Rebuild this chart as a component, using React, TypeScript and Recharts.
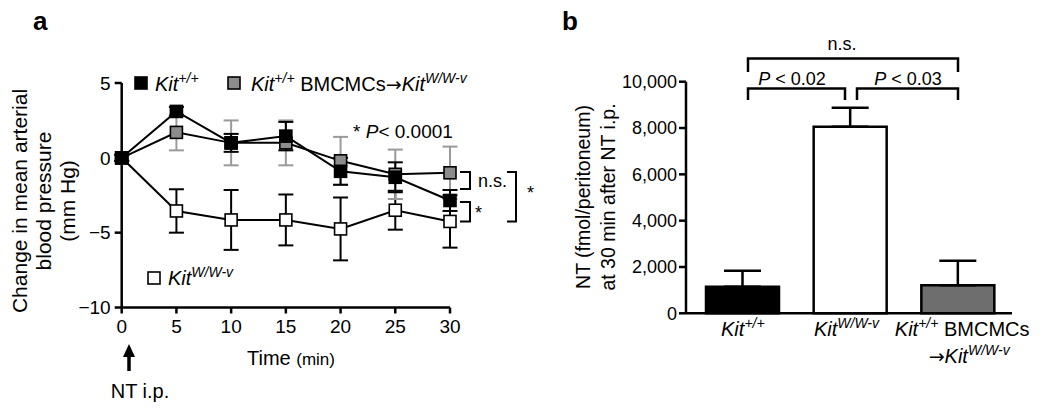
import { LineChart, Line, BarChart, Bar, XAxis, YAxis, ErrorBar, Cell } from 'recharts';

const FONT = 'Arial, "Liberation Sans", Helvetica, sans-serif';
const ARROW_FONT = '"DejaVu Sans", sans-serif';

// a: change in mean arterial pressure after NT i.p.
const times = [0, 5, 10, 15, 20, 25, 30];
const kitWT = [0, 3.1, 1.0, 1.45, -0.9, -1.3, -2.85];
const kitWTErr = [0.2, 0.3, 0.6, 0.95, 0.9, 1.0, 0.7];
const engrafted = [0, 1.7, 1.0, 1.0, -0.2, -1.1, -1.0];
const engraftedErr = [0.2, 1.2, 1.5, 1.5, 1.6, 1.65, 1.75];
const kitWWv = [0, -3.55, -4.15, -4.15, -4.75, -3.5, -4.25];
const kitWWvErr = [0.2, 1.45, 2.0, 1.7, 2.1, 1.3, 1.75];
const timeTicks = [0, 5, 10, 15, 20, 25, 30];
const bpTicks = [-10, -5, 0, 5];

// b: NT recovered from the peritoneum at 30 min
const groups = ['Kit+/+', 'KitW/W-v', 'Kit+/+ BMCMCs→KitW/W-v'];
const ntMean = [1150, 8060, 1210];
const ntSem = [690, 820, 1060];
const ntTicks = [0, 2000, 4000, 6000, 8000, 10000];
const barFills = ['#000000', '#ffffff', '#6e6e6e'];

const bpData = times.map((t, i) => ({
  t,
  wt: kitWT[i],
  wtErr: kitWTErr[i],
  eng: engrafted[i],
  engErr: engraftedErr[i],
  wwv: kitWWv[i],
  wwvErr: kitWWvErr[i],
}));

const ntData = groups.map((g, i) => ({ g, mean: ntMean[i], err: [0, ntSem[i]] }));

const square = (fill: string) => (p: any) => (
  <rect
    key={`sq-${p.index}`}
    x={p.cx - 6}
    y={p.cy - 6}
    width={12}
    height={12}
    fill={fill}
    stroke="#000"
    strokeWidth={1.6}
  />
);

const minus = (v: number) => (v < 0 ? `\u2212${-v}` : `${v}`);

const axisStyle = { stroke: '#000', strokeWidth: 2.5 };

function GroupTick(props: any) {
  const { x, y, index } = props;
  if (index === 0) {
    return (
      <text x={x} y={y + 23} textAnchor="middle" fontSize={20} fontFamily={FONT} fill="#000">
        <tspan fontStyle="italic">Kit</tspan>
        <tspan fontStyle="italic" fontSize={14} dy={-8}>+/+</tspan>
      </text>
    );
  }
  if (index === 1) {
    return (
      <text x={x - 4} y={y + 23} textAnchor="middle" fontSize={20} fontFamily={FONT} fill="#000">
        <tspan fontStyle="italic">Kit</tspan>
        <tspan fontStyle="italic" fontSize={14} dy={-8}>W/W-v</tspan>
      </text>
    );
  }
  return (
    <g>
      <text x={x + 4} y={y + 23} textAnchor="middle" fontSize={20} fontFamily={FONT} fill="#000">
        <tspan fontStyle="italic">Kit</tspan>
        <tspan fontStyle="italic" fontSize={14} dy={-8}>+/+</tspan>
        <tspan dy={8}>{' BMCMCs'}</tspan>
      </text>
      <text x={x + 11} y={y + 50} textAnchor="middle" fontSize={20} fontFamily={FONT} fill="#000">
        <tspan fontFamily={ARROW_FONT} fontSize={19}>→</tspan>
        <tspan fontStyle="italic">Kit</tspan>
        <tspan fontStyle="italic" fontSize={14} dy={-8}>W/W-v</tspan>
      </text>
    </g>
  );
}

export default function App() {
  return (
    <div
      style={{
        position: 'absolute',
        left: 0,
        top: 0,
        width: 1050,
        height: 411,
        background: '#fff',
        fontFamily: FONT,
      }}
    >
      <div style={{ position: 'absolute', left: 0, top: 0 }}>
        <LineChart
          width={560}
          height={411}
          data={bpData}
          margin={{ top: 83, right: 110, bottom: 73.5, left: 61.7 }}
        >
          <XAxis
            dataKey="t"
            type="number"
            domain={[0, 30]}
            ticks={timeTicks}
            height={30}
            axisLine={axisStyle}
            tickLine={axisStyle}
            tickSize={6}
            tickMargin={6}
            tick={{ fill: '#000', fontSize: 19, fontFamily: FONT }}
          />
          <YAxis
            type="number"
            domain={[-10, 5]}
            ticks={bpTicks}
            width={60}
            axisLine={axisStyle}
            tickLine={axisStyle}
            tickSize={7}
            tickMargin={4}
            tickFormatter={minus}
            tick={{ fill: '#000', fontSize: 19, fontFamily: FONT }}
          />
          <Line
            type="linear"
            dataKey="wwv"
            stroke="#000"
            strokeWidth={2}
            dot={square('#ffffff')}
            activeDot={false}
            isAnimationActive={false}
          >
            <ErrorBar dataKey="wwvErr" width={7.5} stroke="#000" strokeWidth={2} />
          </Line>
          <Line
            type="linear"
            dataKey="eng"
            stroke="#000"
            strokeWidth={2}
            dot={square('#8c8c8c')}
            activeDot={false}
            isAnimationActive={false}
          >
            <ErrorBar dataKey="engErr" width={7.5} stroke="#9a9a9a" strokeWidth={2} />
          </Line>
          <Line
            type="linear"
            dataKey="wt"
            stroke="#000"
            strokeWidth={2}
            dot={square('#000000')}
            activeDot={false}
            isAnimationActive={false}
          >
            <ErrorBar dataKey="wtErr" width={7.5} stroke="#000" strokeWidth={2} />
          </Line>
        </LineChart>
      </div>

      <div style={{ position: 'absolute', left: 560, top: 0 }}>
        <BarChart
          width={490}
          height={411}
          data={ntData}
          barSize={73}
          margin={{ top: 81.7, right: 38, bottom: 57.7, left: 66 }}
        >
          <XAxis
            dataKey="g"
            height={40}
            interval={0}
            padding={{ left: 3, right: 0 }}
            axisLine={axisStyle}
            tickLine={false}
            tickSize={0}
            tickMargin={0}
            tick={(p: any) => <GroupTick {...p} />}
          />
          <YAxis
            type="number"
            domain={[0, 10000]}
            ticks={ntTicks}
            width={60}
            axisLine={axisStyle}
            tickLine={axisStyle}
            tickSize={7}
            tickMargin={2}
            tickFormatter={(v: number) => v.toLocaleString('en-US')}
            tick={{ fill: '#000', fontSize: 18, fontFamily: FONT }}
          />
          <Bar dataKey="mean" stroke="#000" strokeWidth={2.5} isAnimationActive={false}>
            {ntData.map((d, i) => (
              <Cell key={d.g} fill={barFills[i]} />
            ))}
            <ErrorBar dataKey="err" width={18.5} stroke="#000" strokeWidth={2.5} />
          </Bar>
        </BarChart>
      </div>

      {/* labels, legend and significance marks */}
      <svg
        width={1050}
        height={411}
        style={{ position: 'absolute', left: 0, top: 0, pointerEvents: 'none' }}
        fontFamily={FONT}
        fill="#000"
      >
        <text x={33} y={30} fontSize={26} fontWeight="bold">a</text>
        <text x={562} y={30} fontSize={26} fontWeight="bold">b</text>

        <g fontSize={21} textAnchor="middle">
          <text transform="translate(27,201) rotate(-90)">Change in mean arterial</text>
          <text transform="translate(51,201) rotate(-90)">blood pressure</text>
          <text transform="translate(75,201) rotate(-90)">(mm Hg)</text>
        </g>

        <text x={291} y={365} textAnchor="middle" fontSize={20}>
          Time <tspan fontSize={17}>(min)</tspan>
        </text>

        <line x1={129} y1={371} x2={129} y2={354} stroke="#000" strokeWidth={3.5} />
        <polygon points="129,344 123,357 135,357" fill="#000" />
        <text x={140} y={398} textAnchor="middle" fontSize={20}>NT i.p.</text>

        {/* legend a */}
        <rect x={135} y={77} width={12} height={12} fill="#000" stroke="#000" strokeWidth={1.6} />
        <text x={155} y={91} fontSize={20}>
          <tspan fontStyle="italic">Kit</tspan>
          <tspan fontStyle="italic" fontSize={14} dy={-8}>+/+</tspan>
        </text>
        <rect x={228} y={77} width={12} height={12} fill="#8c8c8c" stroke="#000" strokeWidth={1.6} />
        <text x={251} y={91} fontSize={20}>
          <tspan fontStyle="italic">Kit</tspan>
          <tspan fontStyle="italic" fontSize={14} dy={-8}>+/+</tspan>
          <tspan dy={8}>{' BMCMCs'}</tspan>
          <tspan fontFamily={ARROW_FONT} fontSize={19}>→</tspan>
          <tspan fontStyle="italic">Kit</tspan>
          <tspan fontStyle="italic" fontSize={14} dy={-8}>W/W-v</tspan>
        </text>
        <rect x={148} y={272} width={12} height={12} fill="#fff" stroke="#000" strokeWidth={1.6} />
        <text x={168} y={285} fontSize={20}>
          <tspan fontStyle="italic">Kit</tspan>
          <tspan fontStyle="italic" fontSize={14} dy={-8}>W/W-v</tspan>
        </text>

        <text x={353} y={138} fontSize={19}>
          {'* '}
          <tspan fontStyle="italic">P</tspan>
          {'< 0.0001'}
        </text>

        <g fill="none" stroke="#000" strokeWidth={2}>
          <path d="M460,172 H470 V189 H460" />
          <path d="M460,202 H470 V221.5 H460" />
          <path d="M507,172 H516 V221.5 H507" />
        </g>
        <text x={478} y={187} fontSize={18}>n.s.</text>
        <text x={475} y={219} fontSize={18}>*</text>
        <text x={527} y={199} fontSize={18}>*</text>

        {/* panel b */}
        <g fontSize={19.5} textAnchor="middle">
          <text transform="translate(590,197) rotate(-90)">NT  (fmol/peritoneum)</text>
          <text transform="translate(615,197) rotate(-90)">at 30 min after NT i.p.</text>
        </g>

        <g fill="none" stroke="#000" strokeWidth={2.5}>
          <path d="M748,72 V58.5 H958 V72" />
          <path d="M748,100 V88.5 H845 V100" />
          <path d="M857,100 V88.5 H958 V100" />
        </g>
        <text x={842} y={50} textAnchor="middle" fontSize={18}>n.s.</text>
        <text x={792} y={85} textAnchor="middle" fontSize={18}>
          <tspan fontStyle="italic">P</tspan>
          {' < 0.02'}
        </text>
        <text x={908} y={85} textAnchor="middle" fontSize={18}>
          <tspan fontStyle="italic">P</tspan>
          {' < 0.03'}
        </text>
      </svg>
    </div>
  );
}
